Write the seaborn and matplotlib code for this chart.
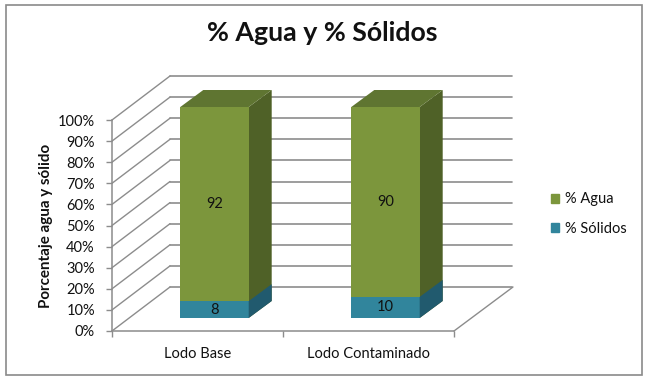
import matplotlib
matplotlib.use("Agg")
import matplotlib.pyplot as plt
from matplotlib.patches import Patch, Rectangle
from matplotlib.transforms import Affine2D
import pandas as pd
import seaborn as sns

lodos = ["Lodo Base", "Lodo Contaminado"]
agua = [92, 90]
solidos = [8, 10]
yticks = [0, 10, 20, 30, 40, 50, 60, 70, 80, 90, 100]
title = "% Agua y % Sólidos"
ylabel = "Porcentaje agua y sólido"

GREEN = "#7C963C"
GREEN_TOP = "#5F7531"
GREEN_SIDE = "#4F6127"
TEAL = "#31859C"
TEAL_SIDE = "#215A6E"
GRID = "#8C8C8C"

W, H = 647, 380
# front plane of the 3d box, in pixels
LEFT, RIGHT, BOTTOM, TOP = 112, 454, 331, 120
# full depth of the box and where the bars sit in it
DEPTH_X, DEPTH_Y = 58, 44
BAR_X, BAR_Y = 17, 13
BAR_DX, BAR_DY = 23, 17

sns.set_theme(style="white")
plt.rcParams["font.family"] = ["Lato", "DejaVu Sans"]

df = pd.DataFrame({"lodo": lodos, "agua": agua, "solidos": solidos})
df["total"] = df["agua"] + df["solidos"]

fig = plt.figure(figsize=(W / 100, H / 100), dpi=100, facecolor="white")
ax = fig.add_axes([LEFT / W, 1 - BOTTOM / H, (RIGHT - LEFT) / W, (BOTTOM - TOP) / H])
ax.patch.set_alpha(0)


def shifted(dx, dy):
    return ax.transData + Affine2D().translate(dx, dy)


sns.barplot(data=df, x="lodo", y="total", color=GREEN, saturation=1, width=0.4, ax=ax, zorder=3, linewidth=0)
sns.barplot(data=df, x="lodo", y="solidos", color=TEAL, saturation=1, width=0.4, ax=ax, zorder=4, linewidth=0)
ax.set_xlim(-0.5, 1.5)
ax.set_ylim(0, 100)

# back wall and side wall lines
back = shifted(DEPTH_X, DEPTH_Y)
for v in yticks:
    ax.plot([-0.5, 1.5], [v, v], color=GRID, lw=1.2, transform=back, clip_on=False, zorder=1)
    y_px = H - BOTTOM + (BOTTOM - TOP) * v / 100
    ax.annotate("", xy=(LEFT + DEPTH_X, y_px + DEPTH_Y), xycoords="figure pixels",
                xytext=(LEFT, y_px), textcoords="figure pixels",
                arrowprops=dict(arrowstyle="-", color=GRID, lw=1, shrinkA=0, shrinkB=0), zorder=1)
# floor right edge
ax.annotate("", xy=(RIGHT + DEPTH_X + 1, H - BOTTOM + DEPTH_Y), xycoords="figure pixels",
            xytext=(RIGHT, H - BOTTOM), textcoords="figure pixels",
            arrowprops=dict(arrowstyle="-", color=GRID, lw=1, shrinkA=0, shrinkB=0), zorder=1)

# move the fronts into the box and add their top and side faces
per_y = (BOTTOM - TOP) / 100
per_x = (RIGHT - LEFT) / 2
dx = BAR_DX / per_x
dy = BAR_DY / per_y
place = shifted(BAR_X, BAR_Y)
n = len(lodos)
for i, bar in enumerate(ax.patches):
    bar.set_transform(place)
    bar.set_clip_on(False)
    x0, x1 = bar.get_x(), bar.get_x() + bar.get_width()
    top = bar.get_height()
    is_solid = i >= n
    side = TEAL_SIDE if is_solid else GREEN_SIDE
    ax.fill([x1, x1 + dx, x1 + dx, x1], [0, dy, top + dy, top], color=side, lw=0,
            transform=place, clip_on=False, zorder=5 if is_solid else 2.5)
    if not is_solid:
        ax.fill([x0, x0 + dx, x1 + dx, x1], [top, top + dy, top + dy, top], color=GREEN_TOP, lw=0,
                transform=place, clip_on=False, zorder=2.5)

# value labels
for i in range(n):
    ax.text(i, solidos[i] + agua[i] / 2, str(agua[i]), ha="center", va="center", fontsize=10.5,
            color="#111111", transform=place, zorder=6)
    ax.text(i, solidos[i] / 2, str(solidos[i]), ha="center", va="center", fontsize=10.5,
            color="#111111", transform=place, zorder=6)

ax.set_yticks(yticks)
ax.set_yticklabels([f"{v}%" for v in yticks])
ax.set_xticks([-0.5, 0.5, 1.5], minor=True)
ax.set_xticks([0, 1])
ax.set_xticklabels(lodos)
ax.tick_params(axis="y", length=4.3, width=1, color=GRID, pad=8, labelsize=10.5, labelcolor="#111111", left=True)
ax.tick_params(axis="x", which="major", length=0, pad=11.5, labelsize=10.5, labelcolor="#111111")
ax.tick_params(axis="x", which="minor", length=4, width=1, color=GRID, bottom=True)
sns.despine(ax=ax, top=True, right=True)
for s in ["left", "bottom"]:
    ax.spines[s].set_color(GRID)
    ax.spines[s].set_linewidth(1.1)
ax.set_xlabel("")
ax.set_ylabel("")

fig.text(46 / W, 1 - 226 / H, ylabel, rotation=90, ha="center", va="center", fontsize=10.9, fontweight="bold", color="#111111")
fig.text(322.5 / W, 1 - 33 / H, title, ha="center", va="center", fontsize=19.3, fontweight="bold", color="#111111")

handles = [Patch(color=GREEN, label="% Agua"), Patch(color=TEAL, label="% Sólidos")]
fig.legend(handles=handles, loc="center left", bbox_to_anchor=(551 / W, 1 - 214 / H), frameon=False,
           fontsize=10.5, handlelength=0.55, handleheight=0.55, handletextpad=0.4, labelspacing=1.05, borderpad=0,
           borderaxespad=0, labelcolor="#111111")

fig.add_artist(Rectangle((5.5 / W, 1 - 374.5 / H), 636 / W, 370 / H, transform=fig.transFigure,
                         fill=False, edgecolor="#8A8A8A", lw=1.2))

fig.savefig("out.png", dpi=100)
